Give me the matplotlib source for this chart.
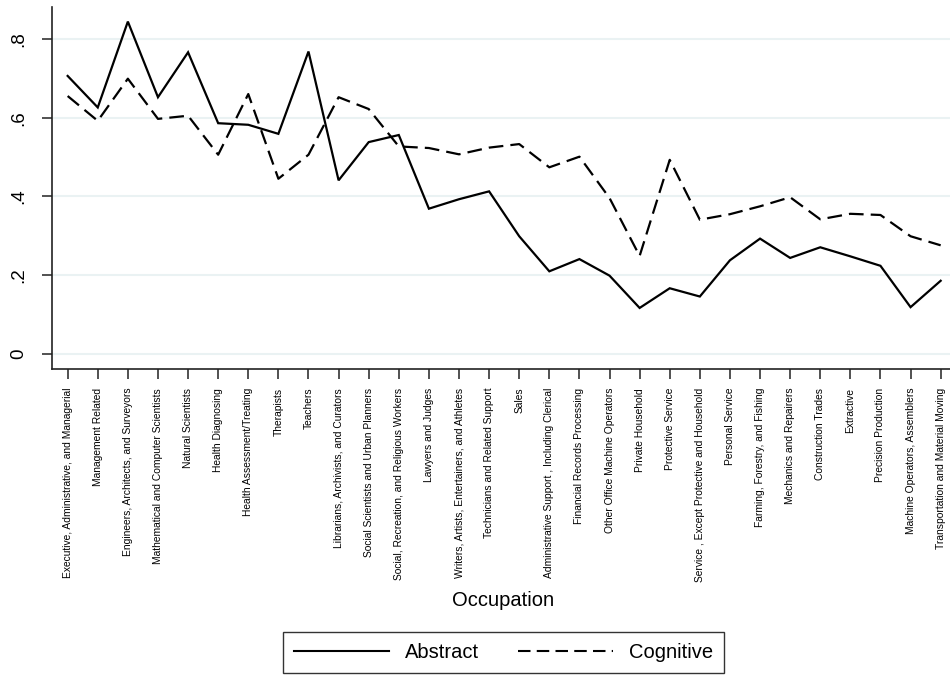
import matplotlib
matplotlib.use("Agg")
import matplotlib.pyplot as plt
from matplotlib.lines import Line2D

occupations = [
    "Executive, Administrative, and Managerial",
    "Management Related",
    "Engineers, Architects, and Surveyors",
    "Mathematical and Computer Scientists",
    "Natural Scientists",
    "Health Diagnosing",
    "Health Assessment/Treating",
    "Therapists",
    "Teachers",
    "Librarians, Archivists, and Curators",
    "Social Scientists and Urban Planners",
    "Social, Recreation, and Religious Workers",
    "Lawyers and Judges",
    "Writers, Artists, Entertainers, and Athletes",
    "Technicians and Related Support",
    "Sales",
    "Administrative Support , Including Clerical",
    "Financial Records Processing",
    "Other Office Machine Operators",
    "Private Household",
    "Protective Service",
    "Service , Except Protective and Household",
    "Personal Service",
    "Farming, Forestry, and Fishing",
    "Mechanics and Repairers",
    "Construction Trades",
    "Extractive",
    "Precision Production",
    "Machine Operators, Assemblers",
    "Transportation and Material Moving",
]

abstract = [0.706, 0.626, 0.844, 0.652, 0.766, 0.586, 0.582, 0.559, 0.768, 0.441,
            0.538, 0.556, 0.369, 0.393, 0.413, 0.299, 0.210, 0.241, 0.199, 0.117,
            0.167, 0.146, 0.238, 0.293, 0.244, 0.271, 0.248, 0.224, 0.119, 0.186]

cognitive = [0.655, 0.592, 0.699, 0.597, 0.605, 0.506, 0.660, 0.445, 0.506, 0.652,
             0.622, 0.527, 0.523, 0.507, 0.524, 0.533, 0.474, 0.501, 0.396, 0.249,
             0.493, 0.341, 0.355, 0.375, 0.398, 0.342, 0.356, 0.353, 0.299, 0.276]

yticks = [0, 0.2, 0.4, 0.6, 0.8]
ytick_labels = ["0", ".2", ".4", ".6", ".8"]

plt.rcParams['font.family'] = ['Liberation Sans', 'DejaVu Sans']

W, H = 950, 677
fig = plt.figure(figsize=(W / 100, H / 100), dpi=100)
ax = fig.add_axes([52 / W, 1 - 369 / H, (W - 52) / W, (369 - 7) / H])

x = list(range(len(occupations)))
dash = (0, (6.6, 3.2))
ax.plot(x, abstract, color='black', lw=1.6, solid_joinstyle='miter')
ax.plot(x, cognitive, color='black', lw=1.6, linestyle=dash)

ax.set_xlim(-0.52, 29.31)
ax.set_ylim(-0.038, 0.881)

ax.set_yticks(yticks)
ax.set_yticklabels(ytick_labels, rotation=90, va='center', fontsize=13.5)
ax.set_xticks(x)
ax.set_xticklabels(occupations, rotation=90, fontsize=7.4, va='top', ha='center')

for yv in yticks:
    ax.axhline(yv, color='#EAF2F3', lw=1.5, zorder=0)

for s in ['top', 'right']:
    ax.spines[s].set_visible(False)
for s in ['left', 'bottom']:
    ax.spines[s].set_color('#222222')
    ax.spines[s].set_linewidth(1.2)

ax.tick_params(axis='both', length=7.5, width=1.1, color='#222222')
ax.tick_params(axis='x', pad=6)
ax.tick_params(axis='y', pad=10)

fig.text(503 / W, 1 - 601 / H, "Occupation", ha='center', va='center', fontsize=14.5)

handles = [Line2D([], [], color='black', lw=1.5),
           Line2D([], [], color='black', lw=1.5, linestyle=(0, (6, 3)))]
leg = fig.legend(handles, ["Abstract", "Cognitive"], loc='center',
                 bbox_to_anchor=(503.5 / W, 1 - 652.5 / H), ncol=2, fontsize=14.5,
                 frameon=True, fancybox=False, edgecolor='black',
                 handlelength=4.7, handletextpad=0.8, columnspacing=1.95,
                 borderpad=0.55)
leg.get_frame().set_linewidth(1.0)

fig.savefig("out.png", dpi=100)
